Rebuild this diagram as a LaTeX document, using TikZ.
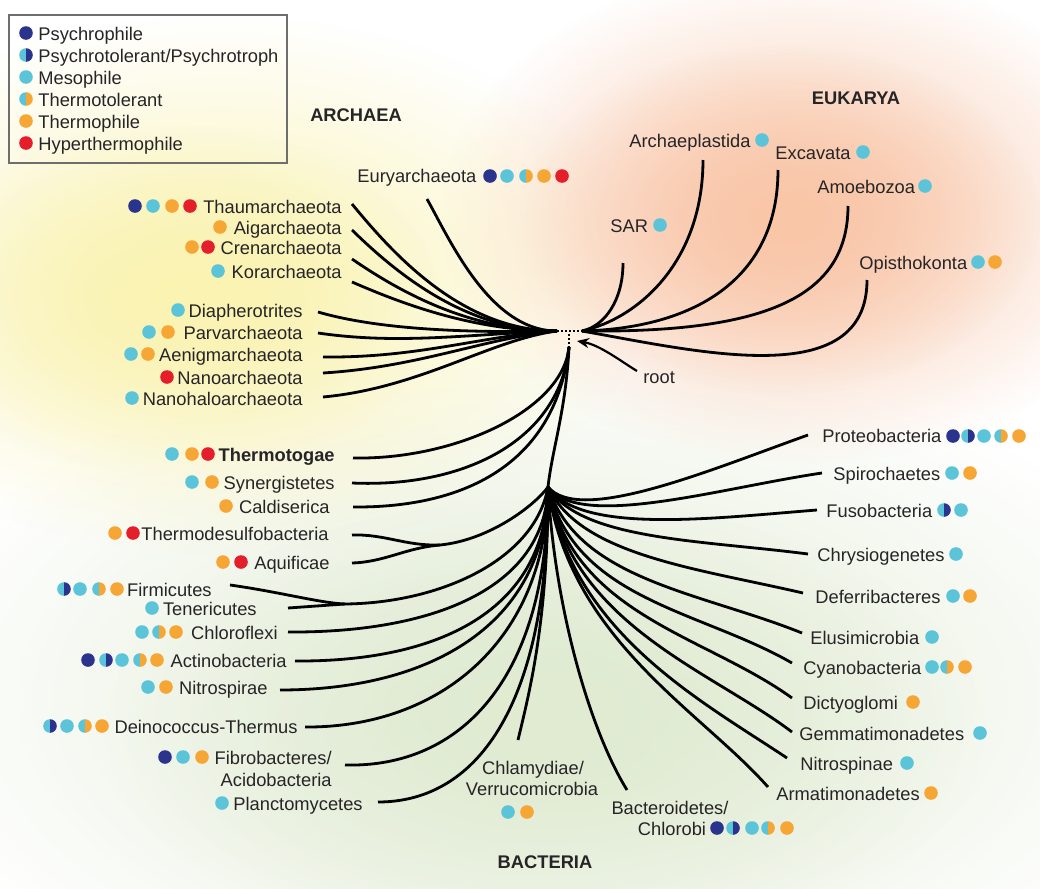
\documentclass[tikz,border=0pt]{standalone}
\usepackage{fontspec}
\setmainfont{Liberation Sans}
\usetikzlibrary{arrows.meta,fadings}

\definecolor{cPsy}{RGB}{43,52,140}
\definecolor{cMes}{RGB}{92,196,216}
\definecolor{cThe}{RGB}{246,166,52}
\definecolor{cHyp}{RGB}{228,30,42}
\definecolor{cTxt}{RGB}{38,36,38}
\definecolor{cBox}{RGB}{110,110,110}
\definecolor{glowY}{RGB}{250,243,178}
\definecolor{glowE}{RGB}{249,198,168}
\definecolor{glowB}{RGB}{224,235,210}

\tikzfading[name=softglow, inner color=transparent!0, outer color=transparent!100]

\newcommand\lblfont{\fontsize{9.15pt}{11pt}\selectfont}
\newcommand\dotr{6.8}
% trait markers: full dots and split dots
\newcommand\Dpsy[2]{\fill[cPsy] (#1,#2) circle[radius=\dotr];}
\newcommand\Dmes[2]{\fill[cMes] (#1,#2) circle[radius=\dotr];}
\newcommand\Dthe[2]{\fill[cThe] (#1,#2) circle[radius=\dotr];}
\newcommand\Dhyp[2]{\fill[cHyp] (#1,#2) circle[radius=\dotr];}
\newcommand\Dsplit[4]{%
  \begin{scope}\clip (#1-8,#2-8) rectangle (#1,#2+8);
    \fill[#3] (#1,#2) circle[radius=\dotr];\end{scope}%
  \begin{scope}\clip (#1,#2-8) rectangle (#1+8,#2+8);
    \fill[#4] (#1,#2) circle[radius=\dotr];\end{scope}}
\newcommand\Dptol[2]{\Dsplit{#1}{#2}{cMes}{cPsy}}
\newcommand\Dttol[2]{\Dsplit{#1}{#2}{cMes}{cThe}}

\begin{document}
\begin{tikzpicture}[x=0.5pt,y=-0.5pt,
  lab/.style={inner sep=0pt, font=\lblfont, text=cTxt, yshift=-1pt},
  labL/.style={lab, anchor=mid east},
  labR/.style={lab, anchor=mid west},
  labC/.style={lab, anchor=mid},
  head/.style={inner sep=0pt, font=\lblfont\bfseries, text=cTxt},
  branch/.style={line width=1.4pt, black},
  hubdots/.style={line width=1.3pt, black, dash pattern=on 1pt off 1pt},
  legbox/.style={draw=cBox, line width=0.6pt}]

\useasboundingbox (0,0) rectangle (1040,889);
\fill[white] (0,0) rectangle (1040,889);

% soft colour fields behind the three domains
\fill[glowB, path fading=softglow] (545,700) ellipse[x radius=660, y radius=350];
\fill[glowB, path fading=softglow] (545,730) ellipse[x radius=440, y radius=230];
\fill[glowY, path fading=softglow] (220,285) ellipse[x radius=430, y radius=270];
\fill[glowY, path fading=softglow] (170,300) ellipse[x radius=270, y radius=175];
\fill[glowE, path fading=softglow] (800,215) ellipse[x radius=360, y radius=250];
\fill[glowE, path fading=softglow] (780,220) ellipse[x radius=260, y radius=175];

% legend
\draw[legbox] (9,15) rectangle (287,163);
\Dpsy{26}{33}  \node[labR] (leg1) at (38,33)  {Psychrophile};
\Dptol{26}{55} \node[labR] (leg2) at (38,55)  {Psychrotolerant/Psychrotroph};
\Dmes{26}{77}  \node[labR] (leg3) at (38,77)  {Mesophile};
\Dttol{26}{99} \node[labR] (leg4) at (38,99)  {Thermotolerant};
\Dthe{26}{121} \node[labR] (leg5) at (38,121) {Thermophile};
\Dhyp{26}{143} \node[labR] (leg6) at (38,143) {Hyperthermophile};

% domain headings
\node[head] (archaea)  at (356,115) {ARCHAEA};
\node[head] (eukarya)  at (856,98)  {EUKARYA};
\node[head] (bacteria) at (545,862) {BACTERIA};

% centre of the tree
\coordinate (hubA) at (557,331);
\coordinate (hubE) at (582,331);
\coordinate (hubV) at (569,334);
\coordinate (root) at (569,347);
\coordinate (knot) at (548,487);
\coordinate (fork) at (440,545);
\coordinate (fjoin) at (345,604);

% ---------------- Archaea ----------------
\node[labR] (eury) at (357,175) {Euryarchaeota};
\Dpsy{490}{176}\Dmes{507}{176}\Dttol{526}{176}\Dthe{544}{176}\Dhyp{562}{176}
\node[labL] (thaum) at (342,206) {Thaumarchaeota};
\Dpsy{135}{206}\Dmes{153}{206}\Dthe{172}{206}\Dhyp{190}{206}
\node[labL] (aigar) at (342,227) {Aigarchaeota};
\Dthe{220}{227}
\node[labL] (crena) at (342,247) {Crenarchaeota};
\Dthe{192}{247}\Dhyp{208}{247}
\node[labL] (korar) at (342,271) {Korarchaeota};
\Dmes{218}{271}
\node[labL] (diaph) at (303,310) {Diapherotrites};
\Dmes{178}{310}
\node[labL] (parva) at (303,332) {Parvarchaeota};
\Dmes{149}{332}\Dthe{168}{332}
\node[labL] (aenig) at (303,354) {Aenigmarchaeota};
\Dmes{131}{354}\Dthe{148}{354}
\node[labL] (nanoa) at (303,377) {Nanoarchaeota};
\Dhyp{167}{377}
\node[labL] (nanoh) at (303,398) {Nanohaloarchaeota};
\Dmes{132}{398}

\coordinate (e-eury)  at (427,199);
\coordinate (e-thaum) at (352,204);
\coordinate (e-aigar) at (352,230);
\coordinate (e-crena) at (352,259);
\coordinate (e-korar) at (352,282);
\coordinate (e-diaph) at (318,312);
\coordinate (e-parva) at (318,333);
\coordinate (e-aenig) at (323,357);
\coordinate (e-nanoa) at (323,373);
\coordinate (e-nanoh) at (323,397);

\draw[branch] (hubA) .. controls (490,331) and (450,240) .. (e-eury);
\draw[branch] (hubA) .. controls (460,331) and (390,250) .. (e-thaum);
\draw[branch] (hubA) .. controls (465,331) and (395,272) .. (e-aigar);
\draw[branch] (hubA) .. controls (470,331) and (400,292) .. (e-crena);
\draw[branch] (hubA) .. controls (475,331) and (405,305) .. (e-korar);
\draw[branch] (hubA) .. controls (470,333) and (380,330) .. (e-diaph);
\draw[branch] (hubA) .. controls (470,334) and (400,345) .. (e-parva);
\draw[branch] (hubA) .. controls (480,336) and (420,358) .. (e-aenig);
\draw[branch] (hubA) .. controls (485,338) and (420,367) .. (e-nanoa);
\draw[branch] (hubA) .. controls (490,340) and (420,388) .. (e-nanoh);

% ---------------- Eukarya ----------------
\node[labR] (archp) at (629,140) {Archaeplastida};
\Dmes{762}{140}
\node[labR] (excav) at (775,152) {Excavata};
\Dmes{863}{152}
\node[labR] (amoeb) at (817,186) {Amoebozoa};
\Dmes{925}{186}
\node[labR] (sar) at (610,225) {SAR};
\Dmes{660}{225}
\node[labR] (opist) at (859,262) {Opisthokonta};
\Dmes{978}{262}\Dthe{995}{262}

\coordinate (e-archp) at (703,160);
\coordinate (e-excav) at (778,170);
\coordinate (e-amoeb) at (848,206);
\coordinate (e-sar)   at (623,263);
\coordinate (e-opist) at (867,280);

\draw[branch] (hubE) .. controls (605,326) and (623,300) .. (e-sar);
\draw[branch] (hubE) .. controls (640,318) and (703,260) .. (e-archp);
\draw[branch] (hubE) .. controls (700,328) and (778,275) .. (e-excav);
\draw[branch] (hubE) .. controls (760,333) and (848,300) .. (e-amoeb);
\draw[branch] (hubE) .. controls (700,352) and (867,392) .. (e-opist);

% dotted joint and root marker
\draw[hubdots] (hubA) -- (hubE);
\draw[hubdots] (hubV) -- (root);
\node[labR] (rootlbl) at (643,376) {root};
\coordinate (e-root) at (637,371);
\coordinate (tip) at (577,341);
\draw[line width=1.1pt, -{Stealth[length=6pt,width=5pt]}]
  (e-root) .. controls (622,362) and (600,345) .. (tip);

% ---------------- Bacteria ----------------
\node[labL, font=\lblfont\bfseries] (thtog) at (335,454) {Thermotogae};
\Dmes{172}{454}\Dthe{192}{454}\Dhyp{208}{454}
\node[labL] (synerg) at (335,482) {Synergistetes};
\Dmes{192}{482}\Dthe{212}{482}
\node[labL] (caldi) at (330,506) {Caldiserica};
\Dthe{226}{506}
\node[labL] (thdes) at (329,533) {Thermodesulfobacteria};
\Dthe{115}{533}\Dhyp{133}{533}
\node[labL] (aquif) at (330,562) {Aquificae};
\Dthe{223}{562}\Dhyp{241}{562}
\node[labL] (firmi) at (212,589) {Firmicutes};
\Dptol{64}{589}\Dmes{80}{589}\Dttol{99}{589}\Dthe{117}{589}
\node[labL] (tener) at (257,608) {Tenericutes};
\Dmes{152}{608}
\node[labL] (chlfl) at (278,632) {Chloroflexi};
\Dmes{142}{632}\Dttol{159}{632}\Dthe{176}{632}
\node[labL] (actin) at (287,660) {Actinobacteria};
\Dpsy{88}{660}\Dptol{106}{660}\Dmes{122}{660}\Dttol{140}{660}\Dthe{157}{660}
\node[labL] (nitrz) at (268,687) {Nitrospirae};
\Dmes{148}{687}\Dthe{166}{687}
\node[labL] (deino) at (298,726) {Deinococcus-Thermus};
\Dptol{50}{726}\Dmes{67}{726}\Dttol{85}{726}\Dthe{102}{726}
\node[labL] (fibro) at (332,757) {Fibrobacteres/};
\node[labL] (acido) at (332,779) {Acidobacteria};
\Dpsy{165}{757}\Dmes{183}{757}\Dthe{202}{757}
\node[labL] (planc) at (363,803) {Planctomycetes};
\Dmes{222}{803}

\node[labC] (chlam1) at (533,767) {Chlamydiae/};
\node[labC] (chlam2) at (532,788) {Verrucomicrobia};
\Dmes{508}{812}\Dthe{527}{812}
\node[labC] (bact1) at (670,807) {Bacteroidetes/};
\node[labC] (bact2) at (672,828) {Chlorobi};
\Dpsy{717}{828}\Dptol{733}{828}\Dmes{752}{828}\Dttol{768}{828}\Dthe{787}{828}

\node[labR] (prot) at (822,435) {Proteobacteria};
\Dpsy{953}{436}\Dptol{968}{436}\Dmes{984}{436}\Dttol{1001}{436}\Dthe{1019}{436}
\node[labR] (spir) at (833,473) {Spirochaetes};
\Dmes{952}{473}\Dthe{970}{473}
\node[labR] (fuso) at (826,510) {Fusobacteria};
\Dptol{944}{510}\Dmes{961}{510}
\node[labR] (chrys) at (817,554) {Chrysiogenetes};
\Dmes{956}{554}
\node[labR] (defer) at (815,596) {Deferribacteres};
\Dmes{953}{596}\Dthe{970}{596}
\node[labR] (elus) at (810,637) {Elusimicrobia};
\Dmes{932}{637}
\node[labR] (cyan) at (803,667) {Cyanobacteria};
\Dmes{932}{667}\Dttol{947}{667}\Dthe{965}{667}
\node[labR] (dicty) at (803,702) {Dictyoglomi};
\Dthe{913}{702}
\node[labR] (gemma) at (799,733) {Gemmatimonadetes};
\Dmes{980}{733}
\node[labR] (nitsp) at (800,763) {Nitrospinae};
\Dmes{907}{763}
\node[labR] (armat) at (776,793) {Armatimonadetes};
\Dthe{931}{793}

\coordinate (e-thtog)  at (353,458);
\coordinate (e-synerg) at (352,483);
\coordinate (e-caldi)  at (353,507);
\coordinate (e-thdes)  at (352,535);
\coordinate (e-aquif)  at (352,563);
\coordinate (e-firmi)  at (230,585);
\coordinate (e-tener)  at (288,608);
\coordinate (e-chlfl)  at (288,632);
\coordinate (e-actin)  at (295,661);
\coordinate (e-nitrz)  at (280,690);
\coordinate (e-deino)  at (305,727);
\coordinate (e-fibro)  at (345,765);
\coordinate (e-planc)  at (378,802);
\coordinate (e-chlam)  at (518,740);
\coordinate (e-bact)   at (627,790);
\coordinate (e-prot)   at (808,435);
\coordinate (e-spir)   at (822,473);
\coordinate (e-fuso)   at (817,510);
\coordinate (e-chrys)  at (808,554);
\coordinate (e-defer)  at (803,593);
\coordinate (e-elus)   at (802,633);
\coordinate (e-cyan)   at (792,663);
\coordinate (e-dicty)  at (792,698);
\coordinate (e-gemma)  at (792,732);
\coordinate (e-nitsp)  at (787,758);
\coordinate (e-armat)  at (768,787);

% trunk and early left branches
\draw[branch] (root) .. controls (566,410) and (552,450) .. (knot);
\draw[branch] (root) .. controls (563,410) and (455,460) .. (e-thtog);
\draw[branch] (root) .. controls (560,440) and (465,488) .. (e-synerg);
\draw[branch] (root) .. controls (556,460) and (470,508) .. (e-caldi);
% paired branches
\draw[branch] (knot) .. controls (535,505) and (490,540) .. (fork);
\draw[branch] (fork) .. controls (405,546) and (385,534) .. (e-thdes);
\draw[branch] (fork) .. controls (405,548) and (385,562) .. (e-aquif);
\draw[branch] (knot) .. controls (535,560) and (440,603) .. (fjoin);
\draw[branch] (fjoin) .. controls (320,603) and (280,592) .. (e-firmi);
\draw[branch] (fjoin) -- (e-tener);
% left fan
\draw[branch] (knot) .. controls (545,590) and (430,633) .. (e-chlfl);
\draw[branch] (knot) .. controls (546,610) and (440,662) .. (e-actin);
\draw[branch] (knot) .. controls (546,625) and (430,690) .. (e-nitrz);
\draw[branch] (knot) .. controls (547,640) and (440,728) .. (e-deino);
\draw[branch] (knot) .. controls (548,680) and (460,768) .. (e-fibro);
\draw[branch] (knot) .. controls (549,700) and (480,802) .. (e-planc);
% downward branches
\draw[branch] (knot) .. controls (548,620) and (530,690) .. (e-chlam);
\draw[branch] (knot) .. controls (555,610) and (590,730) .. (e-bact);
% right fan
\draw[branch] (knot) .. controls (580,525) and (710,470) .. (e-prot);
\draw[branch] (knot) .. controls (580,530) and (720,488) .. (e-spir);
\draw[branch] (knot) .. controls (580,535) and (715,518) .. (e-fuso);
\draw[branch] (knot) .. controls (580,540) and (700,540) .. (e-chrys);
\draw[branch] (knot) .. controls (580,555) and (695,568) .. (e-defer);
\draw[branch] (knot) .. controls (578,580) and (700,592) .. (e-elus);
\draw[branch] (knot) .. controls (575,600) and (700,610) .. (e-cyan);
\draw[branch] (knot) .. controls (573,615) and (705,635) .. (e-dicty);
\draw[branch] (knot) .. controls (572,625) and (710,670) .. (e-gemma);
\draw[branch] (knot) .. controls (571,632) and (700,700) .. (e-nitsp);
\draw[branch] (knot) .. controls (570,640) and (700,710) .. (e-armat);

\end{tikzpicture}
\end{document}
